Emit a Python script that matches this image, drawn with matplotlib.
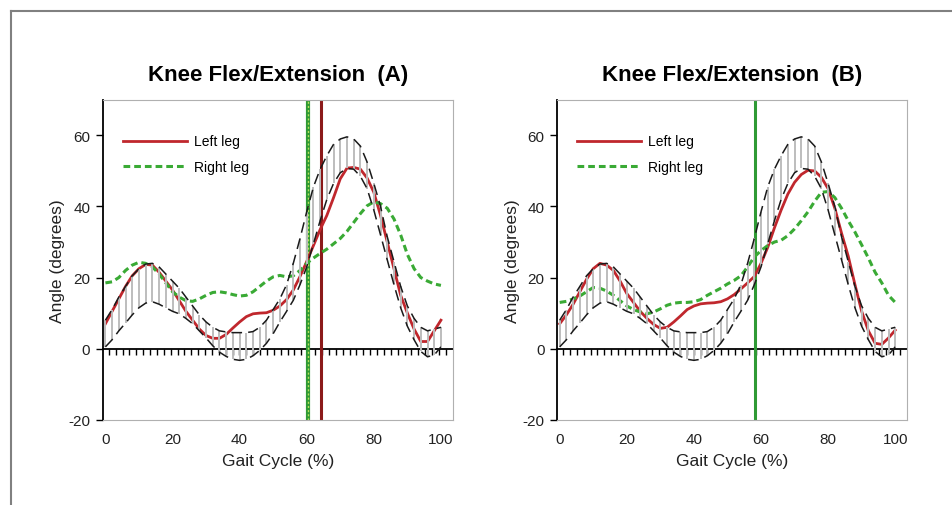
import numpy as np
import matplotlib
matplotlib.use("Agg")
import matplotlib.pyplot as plt
from matplotlib.lines import Line2D

plt.rcParams['font.family'] = ['Liberation Sans', 'DejaVu Sans']
plt.rcParams['axes.unicode_minus'] = False

# gait cycle samples (every 2 %)
gait = np.arange(0, 101, 2)

# normative band (upper / lower limit), same in both panels
norm_upper = [8, 11, 14.5, 17.5, 20.5, 22.5, 23.8, 24, 23, 21, 19, 17, 14.5, 12, 9.5, 7.5, 6,
              5, 4.7, 4.5, 4.5, 4.5, 4.8, 6, 8, 11, 14, 18, 24, 31, 38.5, 45.5, 50.5, 54.3,
              57.5, 59, 59.6, 59, 57, 52.5, 46.5, 40, 31.5, 24.5, 17.5, 12, 8.5, 6, 5, 5.5, 6]
norm_lower = [0.5, 2.5, 5, 7.2, 9.5, 11.5, 12.8, 13.2, 12.5, 11.5, 10.5, 9.8, 8.5, 7, 5, 3, 0.8,
              -1, -2.2, -3, -3.3, -3, -2, -0.5, 1.5, 4.2, 7.5, 10.5, 13.6, 18, 23, 29.5, 36, 42,
              46.5, 49.5, 50.7, 50.5, 48.5, 45, 39, 32, 25, 18, 11.5, 6.3, 2.5, -0.8, -2.3, -1.8, 0.5]

# panel A
left_a = [7, 10.5, 14, 17.5, 20.5, 22.5, 23.7, 23.5, 21.5, 19, 16.5, 13.5, 10.5, 8, 5.5, 3.7, 2.9,
          2.9, 4, 5.8, 7.5, 9, 9.8, 10, 10.1, 10.8, 12, 13.8, 16.5, 20.3, 24.5, 29, 33.5, 37.5,
          42.5, 47.8, 50.8, 51, 50.5, 48, 44, 37.5, 30, 22.5, 15, 10, 5.5, 2, 2, 5, 8]
right_a = [18.5, 18.8, 20, 22, 23.5, 24.3, 24, 23, 21, 18.5, 16, 14.5, 13.5, 13.3, 14, 15, 15.8,
           16, 15.7, 15.2, 14.8, 15, 16, 17.5, 19, 20.2, 20.6, 20.2, 20.5, 22, 24, 25.5, 26.8, 28,
           29.5, 31, 33, 35.5, 38, 40.2, 41.3, 40.8, 39.5, 36.5, 32, 26.5, 22.5, 20, 19, 18.2, 17.8]
toe_off_right_a = 60.4
toe_off_left_a = 64.4

# panel B
left_b = [7, 9.5, 12.5, 16, 19.5, 22.5, 24, 23.5, 22, 19, 15.5, 13, 10.5, 8.5, 6.8, 5.7, 6,
          7.5, 9.2, 11, 12, 12.6, 12.8, 12.9, 13.2, 14, 15.2, 16.8, 18.5, 20.3, 24, 28.5, 34, 39,
          43.5, 46.8, 49, 50.2, 50, 48.2, 45, 39.5, 32.5, 26, 18, 10.5, 5, 1.5, 1.2, 3, 5.2]
right_b = [13, 13.3, 14, 14.8, 16, 17.2, 17, 16.2, 15, 13.5, 12, 11, 10.3, 9.8, 10.3, 11.2, 12.2,
           12.8, 13, 13, 13.2, 13.8, 15, 16, 17, 18.2, 19.2, 20.5, 23, 25.8, 27.6, 29, 30, 30.5,
           31.8, 33.7, 36, 38.5, 41.5, 44, 44.2, 42.5, 39.5, 36, 32.8, 29.2, 25.5, 21.5, 18.5, 15, 13]
toe_off_b = 58.2

RED = '#c0272d'
DARK_RED = '#8b1a1a'
GREEN = '#3aaa35'

fig = plt.figure(figsize=(9.52, 5.06), dpi=100)

# outer frame (only top and left visible)
fig.add_artist(Line2D([0.0116, 0.0116], [0, 0.9763], transform=fig.transFigure, color='#808080', lw=1.5))
fig.add_artist(Line2D([0.0116, 1], [0.9763, 0.9763], transform=fig.transFigure, color='#808080', lw=1.5))

panels = [
    (0.1079, "Knee Flex/Extension  (A)", left_a, right_a),
    (0.5851, "Knee Flex/Extension  (B)", left_b, right_b),
]

for i, (x0, title, left, right) in enumerate(panels):
    ax = fig.add_axes([x0, 0.1686, 0.3676, 0.632])
    ax.set_xlim(-0.8, 103.5)
    ax.set_ylim(-20, 70)

    # vertical lines for toe off
    if i == 0:
        ax.axvline(toe_off_right_a, color='#2f9a35', lw=3, zorder=1)
        ax.axvline(toe_off_right_a, color='#b8e05a', lw=1, ls=(0, (1.5, 1.5)), zorder=1)
        ax.axvline(toe_off_left_a, color=DARK_RED, lw=2.2, zorder=1)
    else:
        ax.axvline(toe_off_b, color='#2f9a35', lw=2.2, zorder=1)

    ax.plot(gait, left, color=RED, lw=2, zorder=2, label='Left leg')
    ax.plot(gait, right, color=GREEN, lw=2.2, ls=(0, (2.2, 1.3)), zorder=2, label='Right leg')

    # normative band: hi-lo lines + dashed limits
    ax.vlines(gait, norm_lower, norm_upper, color='#bdbdbd', lw=1.4, zorder=3)
    ax.plot(gait, norm_upper, color='#1a1a1a', lw=1.1, ls=(0, (7, 4)), zorder=4)
    ax.plot(gait, norm_lower, color='#1a1a1a', lw=1.1, ls=(0, (7, 4)), zorder=4)

    # zero line with small ticks
    sec = ax.secondary_xaxis(20 / 90)
    sec.set_xticks(np.arange(1, 103, 2.05))
    sec.tick_params(axis='x', direction='out', length=4, width=1, labelbottom=False, labeltop=False,
                    color='k')
    sec.spines['bottom'].set_color('k')
    sec.spines['bottom'].set_linewidth(1.3)

    for s in ['top', 'right', 'bottom']:
        ax.spines[s].set_color('#b0b0b0')
        ax.spines[s].set_linewidth(0.8)
    ax.spines['left'].set_color('k')
    ax.spines['left'].set_linewidth(1.3)

    ax.set_yticks([-20, 0, 20, 40, 60])
    ax.set_xticks([0, 20, 40, 60, 80, 100])
    ax.tick_params(axis='y', direction='out', length=5, width=1, labelsize=11, pad=4, colors='k',
                   labelcolor='#222222')
    ax.tick_params(axis='x', length=0, labelsize=11, pad=9, labelcolor='#222222')

    ax.set_xlabel("Gait Cycle (%)", fontsize=12.5, color='#222222', labelpad=5)
    ax.set_ylabel("Angle (degrees)", fontsize=12.5, color='#222222', labelpad=2)
    ax.set_title(title, fontsize=16, fontweight='bold', pad=14)

    ax.legend(loc='upper left', bbox_to_anchor=(0.058, 0.892), frameon=False, fontsize=10,
              handlelength=4.6, handletextpad=0.5, labelspacing=0.85, borderpad=0, borderaxespad=0)

fig.savefig('out.png', dpi=100)
